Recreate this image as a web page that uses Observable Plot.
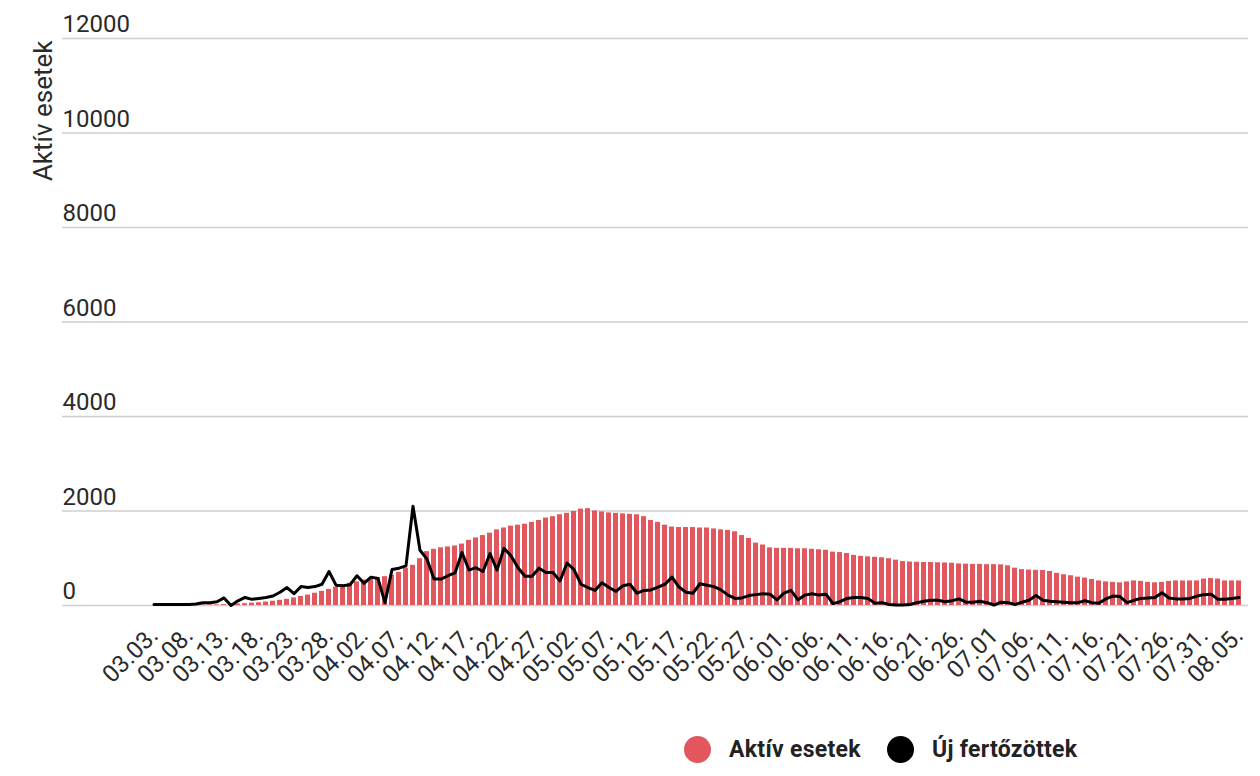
<!DOCTYPE html>
<html>
<head>
<meta charset="utf-8">
<script src="https://cdn.jsdelivr.net/npm/d3@7"></script>
<script src="https://cdn.jsdelivr.net/npm/@observablehq/plot@0.6"></script>
<style>
  html, body { margin: 0; padding: 0; background: #fff; }
  body { width: 1260px; height: 776px; overflow: hidden; font-family: Roboto, "Noto Sans", sans-serif; }
  #chart svg { display: block; }
  .legend { position: absolute; left: 684px; top: 736px; display: flex; align-items: center; font-family: Roboto, sans-serif; font-weight: 700; font-size: 23px; color: #222; letter-spacing: 0.3px; }
  .legend .sw { width: 27px; height: 27px; border-radius: 50%; display: inline-block; margin-right: 18px; }
  .legend .item { display: flex; align-items: center; margin-right: 26px; }
</style>
</head>
<body>
<div id="chart"></div>
<div class="legend">
  <div class="item"><span class="sw" style="background:#e2575e"></span><span id="l1"></span></div>
  <div class="item"><span class="sw" style="background:#000"></span><span id="l2"></span></div>
</div>
<script>
// Categories: days from 03.03. to 08.05.
const days = d3.timeDay.range(new Date(2020, 2, 3), new Date(2020, 7, 6));
const categories = days.map(d3.timeFormat("%m.%d."));

// Aktív esetek (bars)
const aktiv = [
  0,0,2,4,4,7,9,10,12,13,
  19,30,32,39,50,58,73,90,110,130,
  160,190,220,260,300,340,390,430,470,500,
  540,570,590,610,640,700,790,850,990,1140,
  1190,1220,1240,1260,1300,1380,1430,1480,1530,1600,
  1640,1680,1700,1720,1760,1800,1850,1880,1920,1950,
  1990,2040,2050,2000,1980,1960,1950,1940,1930,1920,
  1880,1800,1760,1700,1660,1650,1650,1650,1640,1640,
  1620,1600,1590,1560,1480,1420,1320,1280,1220,1210,
  1210,1210,1200,1200,1190,1180,1170,1130,1120,1100,
  1060,1040,1030,1020,1010,990,960,930,920,915,
  910,910,905,900,895,880,875,870,870,865,
  865,860,840,790,760,750,745,740,720,680,
  650,630,600,580,550,520,500,490,480,500,
  520,510,490,480,490,510,520,520,520,520,
  560,570,560,520,520,520
];

// Új fertőzöttek (line)
const uj = [
  20,20,20,20,20,20,30,60,60,80,
  160,0,100,170,130,150,170,200,280,380,
  250,400,380,400,450,720,430,420,440,630,
  470,600,570,60,760,790,840,2100,1170,980,
  560,560,630,690,1120,750,800,720,1100,750,
  1210,1050,800,620,620,790,700,700,520,900,
  760,450,380,320,480,380,300,420,450,260,
  320,330,390,450,600,390,280,260,460,430,
  400,330,220,150,160,210,230,250,240,120,
  260,320,120,220,250,220,240,40,80,150,
  170,170,150,50,60,20,10,10,20,60,
  90,110,110,80,100,140,70,70,90,60,
  10,70,60,20,70,110,210,110,90,80,
  70,60,60,100,60,50,140,200,190,60,
  110,150,160,170,270,160,140,140,150,200,
  230,240,130,130,150,170
];

const yTicks = [0, 2000, 4000, 6000, 8000, 10000, 12000];
const xTickLabels = [
  "03.03.","03.08.","03.13.","03.18.","03.23.","03.28.","04.02.","04.07.",
  "04.12.","04.17.","04.22.","04.27.","05.02.","05.07.","05.12.","05.17.",
  "05.22.","05.27.","06.01.","06.06.","06.11.","06.16.","06.21.","06.26.",
  "07.01","07.06.","07.11.","07.16.","07.21.","07.26.","07.31.","08.05."
];
const seriesNames = ["Aktív esetek", "Új fertőzöttek"];
const yTitle = "Aktív esetek";

document.getElementById("l1").textContent = seriesNames[0];
document.getElementById("l2").textContent = seriesNames[1];

const data = categories.map((c, i) => ({date: c, aktiv: aktiv[i], uj: uj[i]}));
const xTickValues = categories.filter((c, i) => i % 5 === 0);

const chart = Plot.plot({
  width: 1260,
  height: 720,
  marginLeft: 62,
  marginRight: 12,
  marginTop: 38,
  marginBottom: 115,
  style: {fontFamily: "Roboto, sans-serif", fontSize: "24px", color: "#333", background: "#fff"},
  x: {type: "band", domain: categories, range: [143, 1250], paddingInner: 0.25, paddingOuter: 0.1},
  y: {domain: [0, 12000]},
  marks: [
    Plot.ruleY(yTicks, {stroke: "#cfcfcf", strokeWidth: 1.6}),
    Plot.barY(data, {x: "date", y: "aktiv", fill: "#e2575e"}),
    Plot.line(data, {x: "date", y: "uj", stroke: "#000", strokeWidth: 3, strokeLinejoin: "round"}),
    Plot.axisY({ticks: yTicks, tickSize: 0, tickPadding: 0, textAnchor: "start", dy: -14, tickFormat: d => String(d), fill: "#2a2a2a", fontSize: 24, label: null}),
    Plot.axisX({ticks: xTickValues, tickSize: 0, tickPadding: 26, tickRotate: -45, tickFormat: d => xTickLabels[xTickValues.indexOf(d)], fill: "#2a2a2a", fontSize: 24, letterSpacing: "0.6px", label: null}),
    Plot.text([yTitle], {frameAnchor: "top-left", rotate: -90, textAnchor: "end", dx: -29, dy: 2, fontSize: 26, fill: "#2a2a2a", letterSpacing: "0.5px"})
  ]
});
document.getElementById("chart").appendChild(chart);
</script>
</body>
</html>
